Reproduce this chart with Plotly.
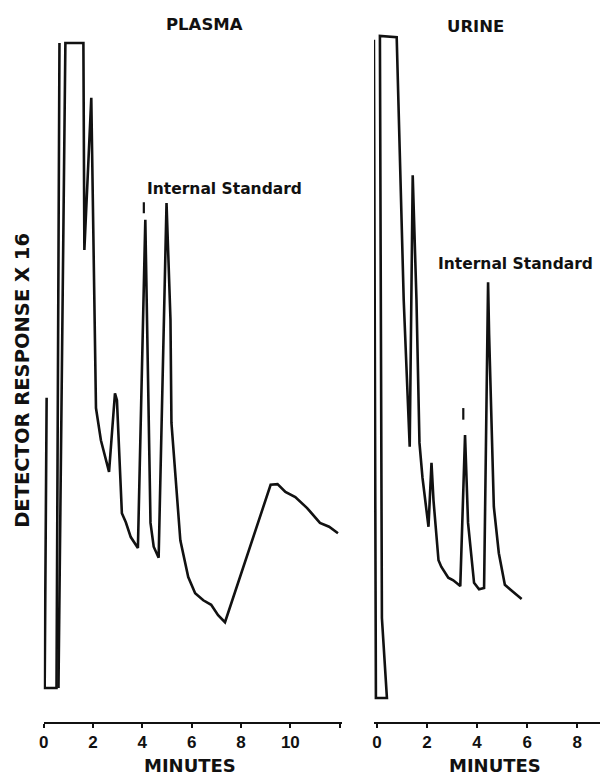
import plotly.graph_objects as go

# ---- data (time in minutes, response in % of recorder full scale) ----
plasma_time = [0.12, 0.04, 0.52, 0.64, None, 0.60, 0.88, 1.61, 1.65, 1.93, 2.12, 2.32, 2.52, 2.65,
               2.89, 2.97, 3.17, 3.33, 3.53, 3.82, 4.12, 4.33, 4.46, 4.66, 4.98, 5.14, 5.18, 5.54,
               5.86, 6.14, 6.47, 6.79, 7.07, 7.35, 9.20, 9.48, 9.80, 10.20, 10.68, 11.20, 11.57, 11.93]
plasma_resp = [45.0, 0, 0, 100, None, 0, 100, 100, 67.9, 91.5, 43.4, 38.4, 35.3, 33.5,
               45.7, 44.6, 27.1, 25.7, 23.4, 21.7, 72.6, 25.6, 21.9, 20.2, 75.2, 57.1, 41.1, 22.9,
               17.2, 14.7, 13.6, 12.9, 11.3, 10.2, 31.5, 31.6, 30.4, 29.6, 27.9, 25.6, 25.0, 24.0]

urine_time = [-0.12, -0.04, 0.40, 0.20, 0.12, 0.79, 1.07, 1.19, 1.31, 1.43, 1.58, 1.70, 1.82,
              2.06, 2.18, 2.26, 2.46, 2.57, 2.85, 3.05, 3.33, 3.52, 3.64, 3.88, 4.08, 4.28,
              4.44, 4.48, 4.67, 4.87, 5.11, 5.35, 5.78]
urine_resp = [100.5, -1.55, -1.55, 10.85, 101.1, 100.9, 60.2, 47.3, 37.4, 79.5, 60.2, 38.0, 32.6,
              25.0, 34.9, 29.1, 19.8, 18.8, 17.1, 16.7, 15.8, 39.2, 25.6, 16.3, 15.3, 15.5,
              62.9, 55.0, 28.1, 20.9, 16.0, 15.2, 13.8]

# drug peak markers ("I")
plasma_mark_time = [4.06, 4.06]
plasma_mark_resp = [75.3, 73.6]
urine_mark_time = [3.45, 3.45]
urine_mark_resp = [43.4, 41.6]

plasma_ticks = [0, 2, 4, 6, 8, 10, 12]
plasma_ticktext = ["0", "2", "4", "6", "8", "10", ""]
urine_ticks = [0, 2, 4, 6, 8]
urine_ticktext = ["0", "2", "4", "6", "8"]

panel_titles = ["PLASMA", "URINE"]
x_title = "MINUTES"
y_title = "DETECTOR RESPONSE X 16"
is_label = "Internal Standard"

# ---- figure ----
BLACK = "#111111"
fig = go.Figure()
line = dict(color=BLACK, width=2.6)
fig.add_trace(go.Scatter(x=plasma_time, y=plasma_resp, mode="lines", line=line,
                         connectgaps=False, xaxis="x", yaxis="y", showlegend=False))
fig.add_trace(go.Scatter(x=plasma_mark_time, y=plasma_mark_resp, mode="lines",
                         line=dict(color=BLACK, width=2.2), xaxis="x", yaxis="y", showlegend=False))
fig.add_trace(go.Scatter(x=urine_time, y=urine_resp, mode="lines", line=line,
                         xaxis="x2", yaxis="y2", showlegend=False))
fig.add_trace(go.Scatter(x=urine_mark_time, y=urine_mark_resp, mode="lines",
                         line=dict(color=BLACK, width=2.2), xaxis="x2", yaxis="y2", showlegend=False))

ydom = [1 - 722 / 775, 1 - 30 / 775]
yrng = [(688 - 722) / 6.45, (688 - 30) / 6.45]
tickfont = dict(family="Liberation Sans, Arial", size=17, color=BLACK)
axis_common = dict(showline=True, linewidth=2, linecolor=BLACK, ticks="outside", ticklen=4,
                   tickwidth=2, tickcolor=BLACK, showgrid=False, zeroline=False,
                   tickfont=tickfont, fixedrange=True)

fig.update_layout(
    width=600, height=775, margin=dict(l=0, r=0, t=0, b=0),
    paper_bgcolor="white", plot_bgcolor="white",
    xaxis=dict(domain=[39 / 600, 340 / 600], range=[0, 12.1], tickvals=plasma_ticks,
               ticktext=["<b>%s</b>" % t for t in plasma_ticktext], anchor="y", **axis_common),
    xaxis2=dict(domain=[372 / 600, 1.0], range=[-0.12, 8.91], tickvals=urine_ticks,
                ticktext=["<b>%s</b>" % t for t in urine_ticktext], anchor="y2", **axis_common),
    yaxis=dict(domain=ydom, range=yrng, visible=False, fixedrange=True),
    yaxis2=dict(domain=ydom, range=yrng, visible=False, fixedrange=True),
)

wordfont = dict(family="DejaVu Sans", size=16.5, color=BLACK)
isfont = dict(family="DejaVu Sans", size=15.5, color=BLACK)
ann = [
    dict(text="<b>%s</b>" % panel_titles[0], x=201 / 600, y=1 - 25 / 775, font=wordfont),
    dict(text="<b>%s</b>" % panel_titles[1], x=474 / 600, y=1 - 26 / 775, font=wordfont),
    dict(text="<b>%s</b>" % is_label, x=141 / 600, y=1 - 189 / 775, xanchor="left", font=isfont),
    dict(text="<b>%s</b>" % is_label, x=435 / 600, y=1 - 264 / 775, xanchor="left", font=isfont),
    dict(text="<b>%s</b>" % x_title, x=187 / 600, y=1 - 765 / 775,
         font=dict(family="DejaVu Sans", size=18, color=BLACK)),
    dict(text="<b>%s</b>" % x_title, x=494 / 600, y=1 - 765 / 775,
         font=dict(family="DejaVu Sans", size=18, color=BLACK)),
    dict(text="<b>%s</b>" % y_title, x=18 / 600, y=1 - 380 / 775, textangle=-90,
         font=dict(family="DejaVu Sans", size=19.5, color=BLACK)),
]
for a in ann:
    a.setdefault("xanchor", "center")
    a.update(xref="paper", yref="paper", yanchor="middle", showarrow=False)
fig.update_layout(annotations=ann)

fig.write_html("out.html", config={"displayModeBar": False},
               post_script="document.body.style.margin='0';document.body.style.overflow='hidden';")
